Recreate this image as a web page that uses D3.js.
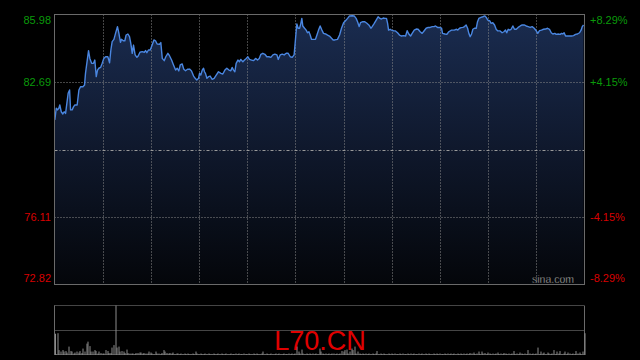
<!DOCTYPE html>
<html><head><meta charset="utf-8">
<script src="https://cdn.jsdelivr.net/npm/d3@7"></script>
<style>
html,body{margin:0;padding:0;background:#000;}
svg{display:block;}
text{font-family:"Liberation Sans",Arial,sans-serif;}
</style></head><body>
<svg id="c" width="640" height="360"></svg>
<script>
const symbol = "L70.CN";
const prevClose = 79.395;
const priceTicks = [85.98, 82.69, 79.395, 76.11, 72.82];
const pctLabels = ["+8.29%", "+4.15%", "", "-4.15%", "-8.29%"];
const priceLabels = ["85.98", "82.69", "", "76.11", "72.82"];
const sessionMinutes = 330;
const gridEvery = 30;

const times = [
0.2,1.1,1.9,2.7,3.3,4.2,5.2,6.0,6.9,7.7,8.5,9.4,10.0,11.0,11.9,12.7,14.1,15.2,16.2,17.7,18.7,19.3,20.4,21.2,22.0,23.1,24.3,25.1,26.0,26.8,27.6,28.7,29.7,30.7,31.8,33.2,34.3,35.1,35.9,37.0,38.0,39.2,40.1,41.1,41.7,42.8,43.8,44.6,45.7,46.7,47.5,48.4,49.2,50.2,51.3,52.1,53.2,54.6,55.9,56.7,57.5,58.5,59.6,60.8,61.9,62.9,63.9,65.4,66.2,67.1,68.3,69.3,70.6,71.6,72.9,74.1,75.4,76.4,77.4,78.3,79.5,80.5,81.6,82.8,84.1,85.3,
86.6,87.6,88.6,89.7,90.3,91.1,92.0,92.8,93.4,94.0,94.9,95.9,96.9,98.2,99.4,100.7,102.1,103.6,104.8,106.1,107.3,108.6,109.8,110.6,111.5,112.3,113.1,114.2,115.2,116.0,117.3,118.3,119.4,120.4,121.4,122.7,123.9,125.2,126.4,127.5,128.5,129.7,131.0,132.2,133.5,134.7,136.0,137.2,138.5,139.3,140.5,141.8,143.0,144.3,145.5,146.8,148.0,149.2,150.1,150.9,151.7,152.6,153.4,154.0,154.6,155.7,156.7,157.5,158.4,159.2,160.0,161.3,162.5,163.4,164.4,165.4,166.5,167.5,168.8,170.0,171.2,
172.5,173.5,174.6,176.2,177.5,178.7,180.0,181.2,182.5,183.7,185.4,186.6,187.8,188.7,189.7,190.5,192.0,193.2,194.5,195.7,197.0,197.8,199.1,200.3,201.5,202.6,203.6,204.7,205.7,206.7,207.4,208.0,209.0,209.8,211.1,212.3,213.6,214.8,216.1,217.3,218.6,219.6,220.6,221.7,222.7,224.0,225.2,226.4,227.7,228.9,230.2,231.4,232.7,233.9,235.2,236.4,237.2,238.5,239.7,241.0,241.6,243.1,244.3,245.5,247.2,248.9,250.3,
251.1,252.2,253.2,254.3,255.3,256.3,257.2,258.0,258.8,259.7,260.5,261.5,262.6,263.4,264.2,265.5,266.7,268.0,268.8,269.8,270.9,271.9,272.9,274.0,275.0,276.0,277.5,278.7,279.8,280.8,281.6,282.5,283.3,284.3,285.4,286.4,287.5,288.7,290.0,291.2,292.4,293.7,294.9,296.2,297.4,298.7,299.9,300.9,302.0,303.2,304.5,305.7,307.0,308.2,309.3,310.3,311.5,312.4,313.6,314.9,315.7,316.5,317.3,318.2,319.4,320.7,321.9,323.2,324.4,325.6,326.9,327.9,328.6,329.4
];
const prices = [
80.84,81.41,81.33,81.41,81.57,81.24,81.13,81.24,81.16,81.65,82.14,82.30,81.33,81.33,81.49,81.57,81.57,82.30,82.46,82.46,82.54,83.11,83.76,84.22,83.84,83.60,83.60,83.76,82.95,83.27,83.36,83.40,83.60,83.84,83.92,83.92,83.63,84.25,84.66,84.77,85.06,85.39,85.06,84.62,84.77,84.70,84.70,84.98,85.03,84.90,84.57,84.09,84.49,84.01,83.89,83.96,84.14,84.17,84.14,84.22,84.12,84.25,84.25,84.49,84.74,84.70,84.54,84.53,84.61,83.84,83.73,83.92,84.09,83.97,83.76,83.52,83.27,83.36,83.23,83.52,83.57,83.31,83.24,83.31,83.32,83.23,
82.98,82.87,82.79,82.87,83.11,83.03,83.27,83.36,83.19,83.11,82.87,82.95,82.98,82.82,82.87,83.03,83.19,83.11,83.08,83.27,83.36,83.27,83.24,83.40,83.27,83.19,83.60,83.76,83.68,83.79,83.68,83.76,83.84,83.92,83.79,83.76,83.73,83.84,83.76,83.84,84.04,84.09,84.04,83.92,83.92,83.89,84.01,84.05,84.01,83.79,84.01,84.05,84.01,84.09,84.09,83.92,83.89,84.01,84.82,85.52,85.31,85.31,85.55,85.79,85.42,85.31,85.22,85.09,85.14,84.98,84.77,84.77,84.77,84.98,85.22,85.42,85.22,85.06,85.03,84.98,84.93,
84.82,84.74,84.74,84.77,84.98,85.31,85.58,85.68,85.79,85.91,85.92,85.91,85.79,85.63,85.39,85.58,85.63,85.63,85.55,85.47,85.31,85.39,85.55,85.71,85.87,85.79,85.76,85.81,85.79,85.79,85.55,85.22,85.26,85.22,85.19,85.18,85.09,84.98,84.93,84.95,84.93,85.19,85.03,84.93,85.06,85.22,85.27,85.26,85.14,85.06,85.19,85.31,85.35,85.35,85.39,85.39,85.42,85.35,85.35,85.31,85.06,85.03,85.01,85.14,85.22,85.22,85.26,
85.22,85.31,85.34,85.35,85.39,85.47,85.31,85.06,84.90,85.03,85.26,85.31,85.31,85.63,85.79,85.84,85.87,85.91,85.84,85.71,85.68,85.55,85.58,85.47,85.26,85.18,85.18,85.09,85.14,85.22,85.09,85.26,85.22,85.26,85.42,85.26,85.26,85.35,85.42,85.47,85.47,85.42,85.39,85.35,85.39,85.31,85.19,85.06,85.19,85.22,85.26,85.27,85.31,85.26,85.09,85.03,85.06,85.01,85.03,85.01,85.06,85.03,85.09,84.93,84.93,84.93,84.93,84.95,85.01,85.03,85.09,85.22,85.39,85.47
];
// per-minute volume (relative units, max = 100)
const volumes = [
43,2,44,10,7,10,7,8,5,17, 8,7,3,5,7,5,8,4,13,7, 23,27,18,7,7,10,8,3,7,4, 3,3,10,8,4,4,15,20,100,15,
17,7,8,7,4,11,4,3,3,3, 2,4,4,5,5,3,4,3,3,7, 5,3,2,7,3,3,2,4,10,7, 4,3,4,3,5,2,3,3,2,3,
2,3,2,3,2,2,3,2,7,3, 2,3,2,2,3,2,3,2,2,3, 2,2,3,2,3,2,2,3,2,2, 3,2,2,3,2,3,2,2,3,2,
2,3,2,2,3,2,3,2,2,3, 7,2,3,2,2,3,2,2,3,2, 3,2,2,3,2,2,3,2,3,2, 3,17,7,3,11,3,2,3,2,3,
2,3,2,3,2,13,7,3,2,3, 2,3,2,3,3,2,3,2,3,8, 7,10,11,3,7,13,10,17,3,7, 3,2,3,2,3,2,3,2,3,2,
3,8,2,3,2,3,2,2,3,2, 3,2,3,2,2,3,2,3,2,2, 3,2,3,2,3,2,2,3,2,3, 2,3,2,3,2,2,3,2,3,2,
3,2,2,3,2,3,2,3,2,3, 2,3,2,3,2,3,2,3,2,4, 3,5,2,3,7,2,7,3,4,2, 5,3,2,3,2,3,5,2,3,2,
4,3,2,3,2,3,8,2,3,2, 5,3,2,3,2,10,3,2,3,2, 3,15,2,7,3,5,2,5,3,2, 3,10,2,7,3,8,2,3,7,2,
5,3,2,3,2,8,3,5,2,7, 44
];

const svg = d3.select("#c");
const L = 54.5, R = 584.5, T = 14.5, B = 284.5;
const VT = 305.5, VM = 330.5, VB = 355;

const x = d3.scaleLinear().domain([0, sessionMinutes]).range([L, R]);
const y = d3.scaleLinear().domain([priceTicks[4], priceTicks[0]]).range([B, T]);
const vy = d3.scaleLinear().domain([0, 100]).range([VB, VT]);

const n = Math.min(times.length, prices.length);
const pts = d3.range(n).map(i => ({t: times[i], v: prices[i]}));

const defs = svg.append("defs");
const g = defs.append("linearGradient").attr("id","fillg")
  .attr("gradientUnits","userSpaceOnUse").attr("x1",0).attr("x2",0).attr("y1",T).attr("y2",B);
g.append("stop").attr("offset","0").attr("stop-color","#1a2c50");
g.append("stop").attr("offset","0.5").attr("stop-color","#0f182c");
g.append("stop").attr("offset","1").attr("stop-color","#04060a");

// area
svg.append("path").datum(pts)
  .attr("d", d3.area().x(d => x(d.t)).y0(B).y1(d => y(d.v)))
  .attr("fill","url(#fillg)");

// vertical grid
const gridTimes = d3.range(gridEvery, sessionMinutes, gridEvery);
svg.append("g").selectAll("line").data(gridTimes).join("line")
  .attr("x1", d => Math.round(x(d)) + 0.5).attr("x2", d => Math.round(x(d)) + 0.5)
  .attr("y1", T).attr("y2", B)
  .attr("stroke","#8a8a8a").attr("stroke-width",1).attr("stroke-dasharray","1,2");

// horizontal grid
svg.append("g").selectAll("line").data([priceTicks[1], priceTicks[3]]).join("line")
  .attr("x1", L).attr("x2", R)
  .attr("y1", d => Math.round(y(d)) + 0.5).attr("y2", d => Math.round(y(d)) + 0.5)
  .attr("stroke","#8a8a8a").attr("stroke-width",1).attr("stroke-dasharray","1,2");
svg.append("line").attr("x1", L).attr("x2", R)
  .attr("y1", Math.round(y(prevClose)) + 0.5).attr("y2", Math.round(y(prevClose)) + 0.5)
  .attr("stroke","#9a9a9a").attr("stroke-width",1).attr("stroke-dasharray","3,2,1,2");

// price line
svg.append("path").datum(pts)
  .attr("d", d3.line().x(d => x(d.t)).y(d => y(d.v)))
  .attr("fill","none").attr("stroke","#4a86e0").attr("stroke-width",1.4).attr("stroke-linejoin","round");

// main frame
svg.append("rect").attr("x", L).attr("y", T).attr("width", R - L).attr("height", B - T)
  .attr("fill","none").attr("stroke","#6a6a6a").attr("stroke-width",1);

// labels
const labelY = v => Math.min(Math.max(y(v), T + 6), B - 6.5);
priceTicks.forEach((v, i) => {
  if (!priceLabels[i]) return;
  const col = v > prevClose ? "#0a9a0a" : "#d80000";
  svg.append("text").attr("x", 51).attr("y", labelY(v)).attr("dy","0.36em")
    .attr("text-anchor","end").attr("font-size", 11).attr("fill", col).text(priceLabels[i]);
  svg.append("text").attr("x", 590).attr("y", labelY(v)).attr("dy","0.36em")
    .attr("text-anchor","start").attr("font-size", 11).attr("fill", col).text(pctLabels[i]);
});

svg.append("text").attr("x", 532).attr("y", 282.5).attr("font-size", 10.5)
  .attr("fill","#bdbdbd").attr("stroke","#000").attr("stroke-width",0.3).text("sina.com");

// volume panel
svg.append("g").selectAll("line").data([VT, VM, VB - 0.5]).join("line")
  .attr("x1", L).attr("x2", R).attr("y1", d => d).attr("y2", d => d)
  .attr("stroke","#8a8a8a").attr("stroke-width",1).attr("stroke-dasharray","1,1");
svg.append("line").attr("x1", L).attr("x2", L).attr("y1", VT).attr("y2", VB)
  .attr("stroke","#6a6a6a");
svg.append("line").attr("x1", R).attr("x2", R).attr("y1", VT).attr("y2", VB)
  .attr("stroke","#6a6a6a");

svg.append("g").selectAll("rect").data(volumes).join("rect")
  .attr("x", (d, i) => Math.round(x(i)) - 0.5 + (i === 0 ? 0.5 : 0))
  .attr("width", 1)
  .attr("y", d => vy(d)).attr("height", d => VB - vy(d))
  .attr("fill","#8c8c8c");

svg.append("text").attr("x", 320).attr("y", 349.5).attr("text-anchor","middle")
  .attr("font-size", 27).attr("fill","#e00000").text(symbol);
</script>
</body></html>
